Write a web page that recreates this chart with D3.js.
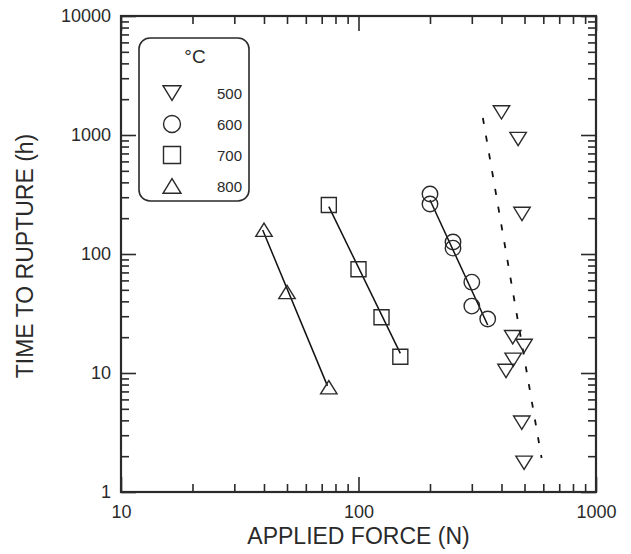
<!DOCTYPE html>
<html>
<head>
<meta charset="utf-8">
<script src="https://cdn.jsdelivr.net/npm/d3@7"></script>
<style>
  html, body { margin: 0; padding: 0; background: #fff; }
  svg { display: block; font-family: "Liberation Sans", Arial, Helvetica, sans-serif; }
</style>
</head>
<body>
<svg id="chart" width="631" height="554"></svg>
<script>
// ---- data ----
const temps = ["500", "600", "700", "800"];
const force500 = [400, 470, 488, 446, 498, 448, 418, 487, 498];
const time500  = [1550, 925, 217, 20, 16.9, 12.9, 10.4, 3.82, 1.76];
const force600 = [200, 200, 250, 250, 300, 300, 350];
const time600  = [319, 263, 126, 112, 58, 36.5, 28.4];
const force700 = [75, 100, 125, 150];
const time700  = [258, 74.4, 29.4, 13.7];
const force800 = [40, 50, 75];
const time800  = [160, 48, 7.6];
// fitted trend lines (end points)
const fit500Force = [334, 590], fit500Time = [1390, 1.93];
const fit600Force = [200, 350], fit600Time = [284, 25.3];
const fit700Force = [75, 150],  fit700Time = [250, 14.6];
const fit800Force = [39.5, 74], fit800Time = [159, 7.8];
const xTicks = [10, 100, 1000];
const yTicks = [1, 10, 100, 1000, 10000];
const xLabel = "APPLIED FORCE (N)";
const yLabel = "TIME TO RUPTURE (h)";
const legendTitle = "°C";

// ---- layout ----
const svg = d3.select("#chart");
const L = 121, T = 16, W = 475, H = 476;
const ink = "#2a2a2a";
const x = d3.scaleLog().domain([10, 1000]).range([0, W]);
const y = d3.scaleLog().domain([1, 10000]).range([H, 0]);
const g = svg.append("g").attr("transform", `translate(${L},${T})`);

function minors(lo, hi) {
  const out = [];
  for (let d = lo; d < hi; d *= 10)
    for (let k = 2; k <= 9; k++) out.push(d * k);
  return out;
}
const xMinor = minors(10, 1000);
const yMinor = minors(1, 10000);

function styleAxis(sel, fs) {
  sel.select(".domain").remove();
  sel.selectAll(".tick line").attr("stroke", ink).attr("stroke-width", 1.6);
  sel.selectAll(".tick text").attr("fill", ink).style("font-size", fs + "px");
}
const fmt = d3.format("d");
const TF = 18;
// bottom
g.append("g").attr("transform", `translate(0,${H})`)
  .call(d3.axisBottom(x).tickValues(xTicks).tickFormat(fmt).tickSize(-15).tickPadding(13))
  .call(s => styleAxis(s, TF));
g.append("g").attr("transform", `translate(0,${H})`)
  .call(d3.axisBottom(x).tickValues(xMinor).tickFormat("").tickSize(-8))
  .call(s => styleAxis(s, TF));
// top
g.append("g")
  .call(d3.axisTop(x).tickValues(xTicks).tickFormat("").tickSize(-15))
  .call(s => styleAxis(s, TF));
g.append("g")
  .call(d3.axisTop(x).tickValues(xMinor).tickFormat("").tickSize(-8))
  .call(s => styleAxis(s, TF));
// left
g.append("g")
  .call(d3.axisLeft(y).tickValues(yTicks).tickFormat(fmt).tickSize(-15).tickPadding(10))
  .call(s => styleAxis(s, TF));
g.append("g")
  .call(d3.axisLeft(y).tickValues(yMinor).tickFormat("").tickSize(-8))
  .call(s => styleAxis(s, TF));
// right
g.append("g").attr("transform", `translate(${W},0)`)
  .call(d3.axisRight(y).tickValues(yTicks).tickFormat("").tickSize(-15))
  .call(s => styleAxis(s, TF));
g.append("g").attr("transform", `translate(${W},0)`)
  .call(d3.axisRight(y).tickValues(yMinor).tickFormat("").tickSize(-8))
  .call(s => styleAxis(s, TF));

// frame
g.append("rect").attr("x", 0).attr("y", 0).attr("width", W).attr("height", H)
  .attr("fill", "none").attr("stroke", ink).attr("stroke-width", 2.2);

// axis titles
svg.append("text").attr("x", L + W / 2).attr("y", 544)
  .attr("text-anchor", "middle").attr("fill", ink).style("font-size", "23px").text(xLabel);
svg.append("text").attr("transform", `translate(33,256) rotate(-90)`)
  .attr("text-anchor", "middle").attr("fill", ink).style("font-size", "23px").text(yLabel);

// symbol paths
function symPath(kind, s) {
  const h = s / 2;
  if (kind === "down") { const w = s * 0.53, hh = s * 0.43; return `M${-w},${-hh}L${w},${-hh}L0,${hh}Z`; }
  if (kind === "up")   { const w = s * 0.53, hh = s * 0.43; return `M${-w},${hh}L${w},${hh}L0,${-hh}Z`; }
  if (kind === "square") return `M${-h},${-h}H${h}V${h}H${-h}Z`;
  return null;
}
function drawSym(parent, kind, cx, cy, s) {
  if (kind === "circle") {
    parent.append("circle").attr("cx", cx).attr("cy", cy).attr("r", s / 2)
      .attr("fill", "none").attr("stroke", ink).attr("stroke-width", 1.4);
  } else {
    parent.append("path").attr("d", symPath(kind, s)).attr("transform", `translate(${cx},${cy})`)
      .attr("fill", "none").attr("stroke", ink).attr("stroke-width", 1.4);
  }
}

const line = d3.line().x(d => x(d[0])).y(d => y(d[1]));
const fits = [
  [fit500Force, fit500Time, "6,12"],
  [fit600Force, fit600Time, null],
  [fit700Force, fit700Time, null],
  [fit800Force, fit800Time, null]
];
fits.forEach(([f, t, dash]) => {
  const p = g.append("path").datum(d3.zip(f, t)).attr("d", line)
    .attr("fill", "none").attr("stroke", "#111").attr("stroke-width", dash ? 1.8 : 1.5);
  if (dash) p.attr("stroke-dasharray", dash);
});

const series = [
  [force500, time500, "down", 15.5],
  [force600, time600, "circle", 15.5],
  [force700, time700, "square", 15],
  [force800, time800, "up", 15.5]
];
series.forEach(([f, t, kind, s]) => {
  d3.zip(f, t).forEach(([fv, tv]) => drawSym(g, kind, x(fv), y(tv), s));
});

// legend
const lg = svg.append("g");
lg.append("rect").attr("x", 139).attr("y", 38).attr("width", 110).attr("height", 163)
  .attr("rx", 11).attr("fill", "#fff").attr("stroke", ink).attr("stroke-width", 1.6);
lg.append("text").attr("x", 195).attr("y", 63).attr("text-anchor", "middle")
  .attr("fill", ink).style("font-size", "19px").text(legendTitle);
const legKinds = ["down", "circle", "square", "up"];
const legY = d3.scalePoint().domain(temps).range([93, 186]);
temps.forEach((tmp, i) => {
  drawSym(lg, legKinds[i], 172, legY(tmp), 17);
  lg.append("text").attr("x", 242).attr("y", legY(tmp) + 5.5).attr("text-anchor", "end")
    .attr("fill", ink).style("font-size", "15px").text(tmp);
});
</script>
</body>
</html>
